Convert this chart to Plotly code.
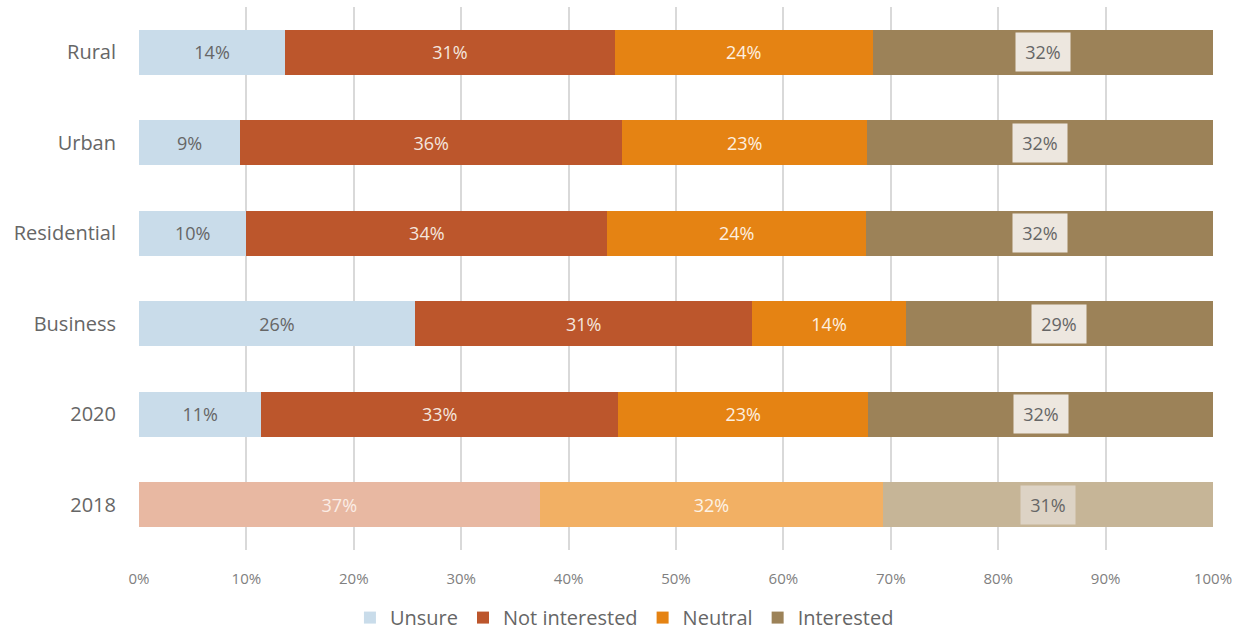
import plotly.graph_objects as go

categories = ["Rural", "Urban", "Residential", "Business", "2020", "2018"]
series_names = ["Unsure", "Not interested", "Neutral", "Interested"]
unsure = [13.6, 9.4, 10.0, 25.7, 11.4, 0.0]
not_interested = [30.7, 35.6, 33.6, 31.4, 33.2, 37.3]
neutral = [24.0, 22.8, 24.1, 14.3, 23.3, 32.0]
interested = [31.7, 32.2, 32.3, 28.6, 32.1, 30.7]
tick_vals = [0, 10, 20, 30, 40, 50, 60, 70, 80, 90, 100]
tick_text = ["0%", "10%", "20%", "30%", "40%", "50%", "60%", "70%", "80%", "90%", "100%"]

values = [unsure, not_interested, neutral, interested]
main_colors = ["#C9DCEA", "#BC562C", "#E58313", "#9C8258"]
faded_colors = ["#DDE8F1", "#E8B8A2", "#F2B064", "#C6B597"]
text_colors_main = ["#666666", "#F4E6DE", "#FDF0E0", "#666666"]
text_colors_faded = ["#666666", "#FBEDE6", "#FDF3E6", "#666666"]

FONT = "Open Sans"
order = categories[::-1]

fig = go.Figure()
for i, name in enumerate(series_names):
    vals = values[i]
    colors = [faded_colors[i] if c == "2018" else main_colors[i] for c in categories]
    txt = []
    tcol = []
    for c, v in zip(categories, vals):
        if v <= 0 or name == "Interested":
            txt.append("")
        else:
            txt.append(f"{round(v)}%")
        tcol.append(text_colors_faded[i] if c == "2018" else text_colors_main[i])
    fig.add_trace(go.Bar(
        name=name, y=categories, x=vals, orientation="h",
        marker=dict(color=colors, line=dict(width=0)),
        text=txt, textposition="inside", insidetextanchor="middle",
        textfont=dict(family=FONT, size=18, color=tcol),
        cliponaxis=False, showlegend=True,
    ))

# Interested labels with box background
for c, u, n, ne, it in zip(categories, unsure, not_interested, neutral, interested):
    start = u + n + ne
    fig.add_annotation(
        x=start + it / 2, y=order.index(c), xref="x", yref="y",
        text=f"{round(it)}%", showarrow=False,
        font=dict(family=FONT, size=18, color="#666666"),
        bgcolor="#DDD3C5" if c == "2018" else "#EDE7DF",
        width=48, height=32, borderpad=3,
    )

fig.update_layout(
    barmode="stack",
    bargap=0.5,
    width=1243, height=639,
    margin=dict(l=139, r=30, t=7, b=89, autoexpand=False),
    plot_bgcolor="white", paper_bgcolor="white",
    font=dict(family=FONT, color="#666666"),
    legend=dict(
        orientation="h", x=0.1964, xanchor="left",
        yref="container", y=0.003, yanchor="bottom",
        font=dict(family=FONT, size=20, color="#666666"),
        traceorder="normal",
    ),
    xaxis=dict(
        range=[0, 100], tickvals=tick_vals, ticktext=tick_text,
        showgrid=True, gridcolor="#D9D9D9", gridwidth=2,
        zeroline=False, showline=False,
        tickfont=dict(family=FONT, size=15, color="#808080"),
        ticks="", ticklabelstandoff=18, fixedrange=True,
    ),
    yaxis=dict(
        type="category",
        categoryorder="array", categoryarray=order,
        range=[-0.5, 5.5],
        showgrid=False, zeroline=False, showline=False,
        tickfont=dict(family=FONT, size=20, color="#666666"),
        ticks="", ticklabelstandoff=22,
    ),
)

fig.write_html("out.html")
